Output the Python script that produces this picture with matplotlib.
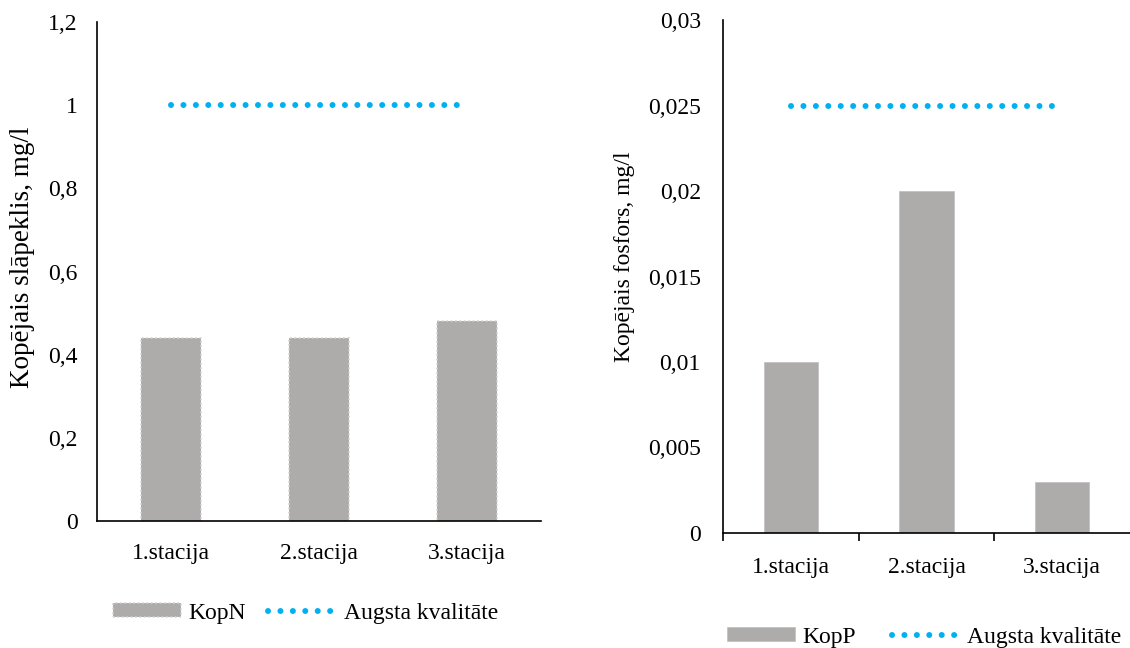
import numpy as np
import matplotlib
matplotlib.use("Agg")
import matplotlib.pyplot as plt
from matplotlib.ticker import MultipleLocator, FuncFormatter

stacijas = ["1.stacija", "2.stacija", "3.stacija"]
kop_n = [0.44, 0.44, 0.48]
kop_p = [0.01, 0.02, 0.003]
augsta_n = [1, 1, 1]
augsta_p = [0.025, 0.025, 0.025]

plt.rcParams["font.family"] = ["Liberation Serif", "DejaVu Serif"]
plt.rcParams["font.size"] = 17

BAR = "#aeabab"
LINE = "#00b0f0"
W, H = 1130, 648


def komats(v, pos):
    return "{:g}".format(v).replace(".", ",")


fig = plt.figure(figsize=(11.3, 6.48), dpi=100)
ax1 = fig.add_axes([0.0858, 0.196, 0.3930, 0.770])
ax2 = fig.add_axes([0.6398, 0.1775, 0.3602, 0.7915])

x = np.arange(len(stacijas))

# kreisais grafiks - slapeklis
b1 = ax1.bar(x, kop_n, width=0.41, color=BAR, edgecolor="#d4d2d2",
             linestyle=":", linewidth=1.2, label="KopN")
l1, = ax1.plot(x, augsta_n, color=LINE, linewidth=4.3, linestyle=(0, (0.01, 2.07)),
               dash_capstyle="round", label="Augsta kvalitāte")
ax1.set_ylim(0, 1.2)
ax1.set_xlim(-0.5, 2.5)
ax1.yaxis.set_major_locator(MultipleLocator(0.2))
ax1.yaxis.set_major_formatter(FuncFormatter(komats))
ax1.set_ylabel("Kopējais slāpeklis, mg/l", fontsize=19.5)
ax1.yaxis.set_label_coords(-0.14, 0.529)
ax1.set_xticks(x)
ax1.set_xticklabels(stacijas)
ax1.tick_params(axis="y", length=0, pad=14)
ax1.tick_params(axis="x", length=0, pad=16)
fig.legend([b1, l1], ["KopN", "Augsta kvalitāte"], loc="center left",
           bbox_to_anchor=(113 / W, 1 - 613 / H), ncol=2, frameon=False,
           borderpad=0, borderaxespad=0, handlelength=2.9, handleheight=0.5,
           handletextpad=0.3, columnspacing=0.95)

# labais grafiks - fosfors
b2 = ax2.bar(x, kop_p, width=0.40, color=BAR, edgecolor="#c4c2c2",
             linewidth=0.6, label="KopP")
l2, = ax2.plot(x, augsta_p, color=LINE, linewidth=4.3, linestyle=(0, (0.01, 2.07)),
               dash_capstyle="round", label="Augsta kvalitāte")
ax2.set_ylim(0, 0.03)
ax2.set_xlim(-0.5, 2.5)
ax2.yaxis.set_major_locator(MultipleLocator(0.005))
ax2.yaxis.set_major_formatter(FuncFormatter(komats))
ax2.set_ylabel("Kopējais fosfors, mg/l")
ax2.yaxis.set_label_coords(-0.216, 0.538)
ax2.set_xticks(x)
ax2.set_xticklabels(stacijas)
ax2.tick_params(axis="y", length=0, pad=16)
ax2.tick_params(axis="x", which="major", length=0, pad=17)
ax2.set_xticks([-0.5, 0.5, 1.5], minor=True)
ax2.tick_params(axis="x", which="minor", length=6, width=1.2, direction="out")
fig.legend([b2, l2], ["KopP", "Augsta kvalitāte"], loc="center left",
           bbox_to_anchor=(727 / W, 1 - 637 / H), ncol=2, frameon=False,
           borderpad=0, borderaxespad=0, handlelength=2.9, handleheight=0.5,
           handletextpad=0.3, columnspacing=1.5)

for ax in (ax1, ax2):
    ax.spines["top"].set_visible(False)
    ax.spines["right"].set_visible(False)
    ax.spines["left"].set_linewidth(1.2)
    ax.spines["bottom"].set_linewidth(1.2)

fig.savefig("out.png", dpi=100)
